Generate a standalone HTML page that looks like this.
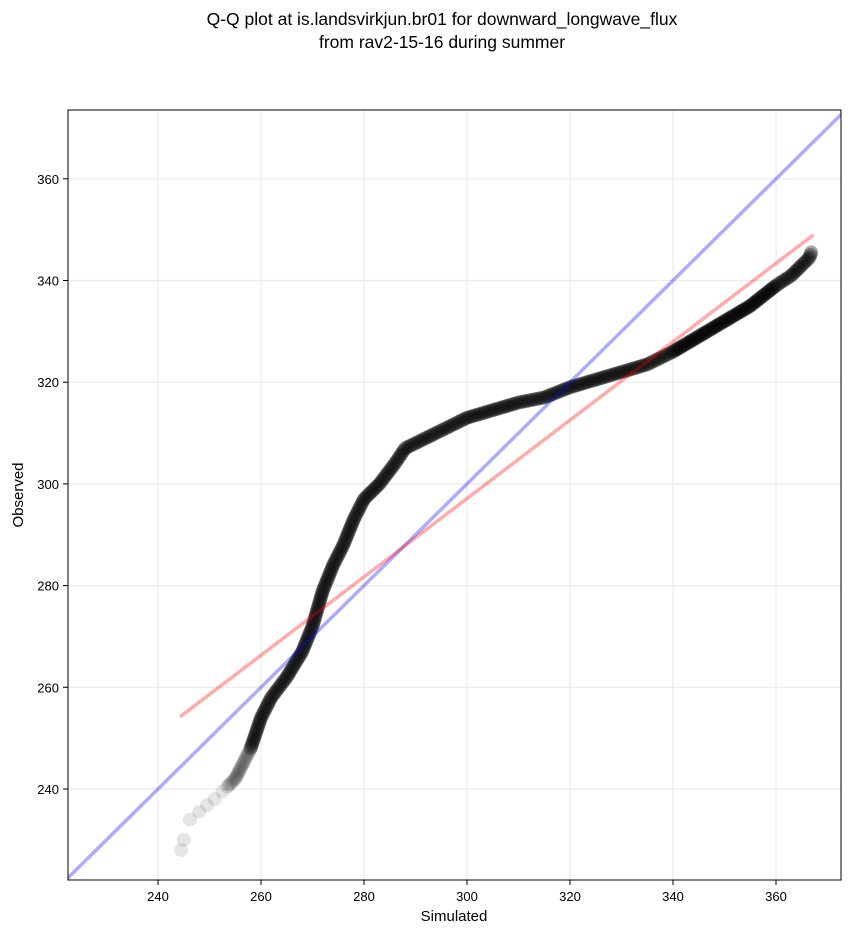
<!DOCTYPE html>
<html><head><meta charset="utf-8"><style>
html,body{margin:0;background:#fff;width:851px;height:934px;overflow:hidden}
svg{display:block}
text{font-family:"Liberation Sans","DejaVu Sans",sans-serif}
</style></head><body>
<svg id="s" width="851" height="934" xmlns="http://www.w3.org/2000/svg">
<text x="442" y="25" font-size="17.5" text-anchor="middle">Q-Q plot at is.landsvirkjun.br01 for downward_longwave_flux</text>
<text x="442" y="48" font-size="17.5" text-anchor="middle">from rav2-15-16 during summer</text>
<g id="grid" stroke="#ebebeb" stroke-width="1.2"></g>
<g id="pts"></g>
<clipPath id="c"><rect x="68" y="110" width="773" height="770"/></clipPath>
<g clip-path="url(#c)">
<line id="blue" stroke="#0000ff" stroke-opacity="0.33" stroke-width="3.5"/>
<line id="red" stroke="#ff0000" stroke-opacity="0.33" stroke-width="3.5"/>
</g>
<rect x="68" y="110" width="773" height="770" fill="none" stroke="#000" stroke-width="1"/>
<g id="ticks" font-size="13"></g>
<text x="454" y="921" font-size="15" text-anchor="middle">Simulated</text>
<text transform="translate(23,495) rotate(-90)" font-size="15" text-anchor="middle">Observed</text>
</svg>
<script>
var NS="http://www.w3.org/2000/svg";
function X(v){return 158+(v-240)*5.15}
function Y(v){return 789-(v-240)*5.085}
function el(t,a,p){var e=document.createElementNS(NS,t);for(var k in a)e.setAttribute(k,a[k]);p.appendChild(e);return e}
var g=document.getElementById('grid'),tk=document.getElementById('ticks');
for(var v=240;v<=360;v+=20){
 el('line',{x1:X(v),x2:X(v),y1:110,y2:880},g);
 el('line',{x1:68,x2:841,y1:Y(v),y2:Y(v)},g);
 el('line',{x1:X(v),x2:X(v),y1:880,y2:885,stroke:'#000'},tk);
 el('line',{x1:63,x2:68,y1:Y(v),y2:Y(v),stroke:'#000'},tk);
 var t=el('text',{x:X(v),y:901,'text-anchor':'middle'},tk);t.textContent=v;
 t=el('text',{x:59,y:Y(v)+5,'text-anchor':'end'},tk);t.textContent=v;
}
var b=document.getElementById('blue');
b.setAttribute('x1',X(200));b.setAttribute('y1',Y(200));b.setAttribute('x2',X(400));b.setAttribute('y2',Y(400));
var r=document.getElementById('red');
r.setAttribute('x1',X(244.3));r.setAttribute('y1',Y(254.2));r.setAttribute('x2',X(367.3));r.setAttribute('y2',Y(349));
var P=document.getElementById('pts');
var sparse=[[244.5,228],[245,230],[246.2,234],[248,235.5],[249.5,236.8],[251,238],[252.5,239.5]];
sparse.forEach(function(p){el('circle',{cx:X(p[0]),cy:Y(p[1]),r:7,fill:'#000','fill-opacity':0.1},P)});
var K=[[253.5,240.5],[255,242],[256,244],[258,248],[260,254],[262,258],[265,262],[268,267],[270,272],[272,279],[274,284],[276,288],[278,293],[280,297],[283,300],[286,304],[288,307],[292,309],[296,311],[300,313],[305,314.5],[310,316],[315,317],[320,319],[325,320.5],[330,322],[335,323.5],[340,326],[345,329],[350,332],[355,335],[360,339],[363,341],[365,343],[366.5,344.5],[367,346]];
for(var i=0;i<K.length-1;i++){
 var x1=X(K[i][0]),y1=Y(K[i][1]),x2=X(K[i+1][0]),y2=Y(K[i+1][1]);
 var d=Math.hypot(x2-x1,y2-y1),n=Math.max(1,Math.round(d/2.5));
 var op=i<3?0.15:(K[i][0]>336&&K[i][0]<356?0.45:0.35);
 for(var j=0;j<n;j++){var f=j/n;el('circle',{cx:x1+(x2-x1)*f,cy:y1+(y2-y1)*f,r:7,fill:'#000','fill-opacity':op},P)}
}
</script>
</body></html>
